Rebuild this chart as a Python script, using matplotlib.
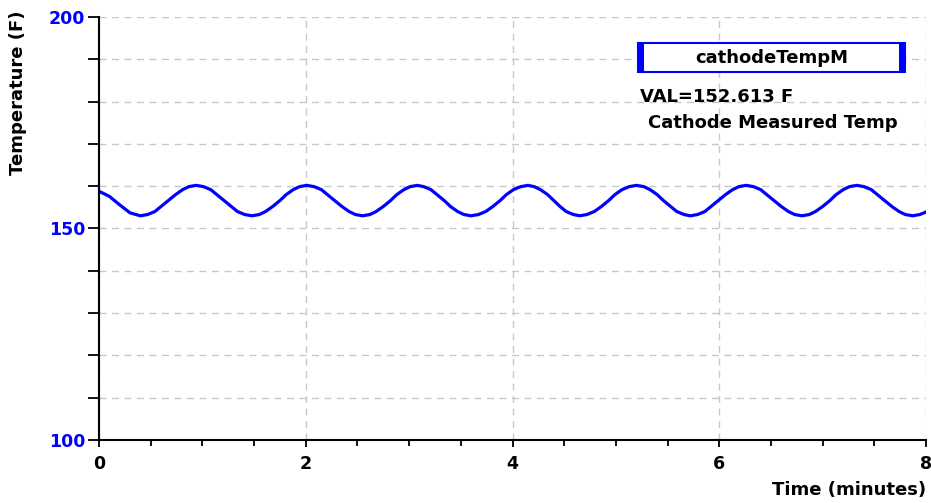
import matplotlib.pyplot as plt
from matplotlib.patches import Rectangle
from matplotlib.ticker import MultipleLocator

# time (minutes) and measured cathode temperature (F)
time_min = [0.00, 0.10, 0.20, 0.30, 0.40,
            0.47, 0.54, 0.60, 0.67, 0.74, 0.81, 0.87, 0.94,
            1.01, 1.08, 1.14, 1.21, 1.28, 1.34, 1.41, 1.48,
            1.55, 1.61, 1.68, 1.75, 1.81, 1.88, 1.94, 2.01,
            2.08, 2.15, 2.21, 2.28, 2.35, 2.42, 2.48, 2.55,
            2.62, 2.68, 2.75, 2.82, 2.88, 2.95, 3.01, 3.08,
            3.14, 3.21, 3.27, 3.34, 3.40, 3.47, 3.53, 3.60,
            3.67, 3.74, 3.81, 3.88, 3.94, 4.01, 4.08, 4.15,
            4.21, 4.27, 4.34, 4.40, 4.46, 4.52, 4.59, 4.65,
            4.72, 4.79, 4.86, 4.93, 4.99, 5.06, 5.13, 5.20,
            5.27, 5.33, 5.40, 5.46, 5.53, 5.59, 5.66, 5.72,
            5.79, 5.86, 5.92, 5.99, 6.06, 6.13, 6.19, 6.26,
            6.33, 6.40, 6.46, 6.53, 6.60, 6.67, 6.73, 6.80,
            6.87, 6.93, 7.00, 7.07, 7.13, 7.20, 7.26, 7.33,
            7.40, 7.47, 7.53, 7.60, 7.67, 7.74, 7.80, 7.87,
            7.94, 8.00]
temp_f = [158.8, 157.6, 155.6, 153.7, 153.0,
          153.3, 154.0, 155.2, 156.6, 158.0, 159.2, 159.9, 160.2,
          159.9, 159.2, 158.0, 156.6, 155.2, 154.0, 153.3, 153.0,
          153.3, 154.0, 155.2, 156.6, 158.0, 159.2, 159.9, 160.2,
          159.9, 159.2, 158.0, 156.6, 155.2, 154.0, 153.3, 153.0,
          153.3, 154.0, 155.2, 156.6, 158.0, 159.2, 159.9, 160.2,
          159.9, 159.2, 158.0, 156.6, 155.2, 154.0, 153.3, 153.0,
          153.3, 154.0, 155.2, 156.6, 158.0, 159.2, 159.9, 160.2,
          159.9, 159.2, 158.0, 156.6, 155.2, 154.0, 153.3, 153.0,
          153.3, 154.0, 155.2, 156.6, 158.0, 159.2, 159.9, 160.2,
          159.9, 159.2, 158.0, 156.6, 155.2, 154.0, 153.3, 153.0,
          153.3, 154.0, 155.2, 156.6, 158.0, 159.2, 159.9, 160.2,
          159.9, 159.2, 158.0, 156.6, 155.2, 154.0, 153.3, 153.0,
          153.3, 154.0, 155.2, 156.6, 158.0, 159.2, 159.9, 160.2,
          159.9, 159.2, 158.0, 156.6, 155.2, 154.0, 153.3, 153.0,
          153.3, 153.9]

x_ticks = [0, 2, 4, 6, 8]
y_ticks = [100, 150, 200]
tag_name = "cathodeTempM"
value_text = "VAL=152.613 F"
desc_text = "Cathode Measured Temp"

W, H = 931, 503
fig = plt.figure(figsize=(W / 100, H / 100), dpi=100)
ax = fig.add_axes([99 / W, 1 - 440 / H, 827 / W, 423 / H])

ax.plot(time_min, temp_f, color="#0000ff", linewidth=2.3, zorder=3,
        solid_joinstyle="round")

ax.set_xlim(0, 8)
ax.set_ylim(100, 200)
ax.set_xticks(x_ticks)
ax.set_yticks(y_ticks)
ax.xaxis.set_minor_locator(MultipleLocator(0.5))
ax.yaxis.set_minor_locator(MultipleLocator(10))

ax.grid(True, axis="x", which="major", color="#c8c8c8", linestyle=(0, (5, 4)), linewidth=1)
ax.grid(True, axis="y", which="both", color="#c8c8c8", linestyle=(0, (5, 4)), linewidth=1)
ax.set_axisbelow(True)

for s in ["top", "right"]:
    ax.spines[s].set_visible(False)
for s in ["left", "bottom"]:
    ax.spines[s].set_linewidth(1.5)
    ax.spines[s].set_zorder(4)

ax.tick_params(axis="x", which="major", direction="out", length=5, width=1.3, pad=6,
               labelsize=12.5)
ax.tick_params(axis="x", which="minor", direction="out", length=4, width=1.3)
ax.tick_params(axis="y", which="major", direction="out", length=8, width=1.3, pad=2,
               labelsize=12.5, labelcolor="#0000ff")
ax.tick_params(axis="y", which="minor", direction="out", length=8, width=1.3)
for lab in ax.get_xticklabels() + ax.get_yticklabels():
    lab.set_fontweight("bold")

fig.text(18 / W, 1 - 93 / H, "Temperature (F)", rotation=90, ha="center", va="center",
         fontsize=13, fontweight="bold")
fig.text(926 / W, 1 - 490 / H, "Time (minutes)", ha="right", va="center",
         fontsize=13, fontweight="bold")

# tag box in the upper right
bx0, by0, bx1, by1 = 638, 43, 905, 72
fig.patches.append(Rectangle((bx0 / W, 1 - by1 / H), (bx1 - bx0) / W, (by1 - by0) / H,
                             transform=fig.transFigure, facecolor="white",
                             edgecolor="#0000ff", linewidth=1.5, zorder=5))
for sx in [bx0, bx1 - 6]:
    fig.patches.append(Rectangle((sx / W, 1 - by1 / H), 6 / W, (by1 - by0) / H,
                                 transform=fig.transFigure, facecolor="#0000ff",
                                 edgecolor="none", zorder=6))
fig.text((bx0 + bx1) / 2 / W, 1 - 58 / H, tag_name, ha="center", va="center",
         fontsize=13, fontweight="bold", zorder=7)
fig.text(640 / W, 1 - 97 / H, value_text, ha="left", va="center",
         fontsize=13, fontweight="bold")
fig.text(648 / W, 1 - 123 / H, desc_text, ha="left", va="center",
         fontsize=13, fontweight="bold")

fig.savefig("out.png", dpi=100)
